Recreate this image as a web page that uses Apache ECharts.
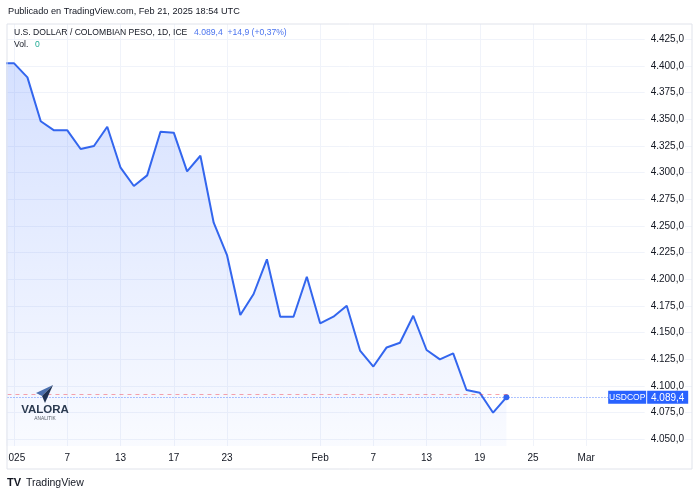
<!DOCTYPE html>
<html><head><meta charset="utf-8">
<script src="https://cdn.jsdelivr.net/npm/echarts@6/dist/echarts.min.js"></script>
<style>html,body{margin:0;padding:0;background:#fff}#c{width:700px;height:497px}</style>
</head><body><div id="c"></div>
<script>
// ---- data ----
const tradingDays = ["Dec 31","Jan 1","Jan 2","Jan 3","Jan 6","Jan 7","Jan 8","Jan 9","Jan 10","Jan 13","Jan 14","Jan 15","Jan 16","Jan 17","Jan 20","Jan 21","Jan 22","Jan 23","Jan 24","Jan 27","Jan 28","Jan 29","Jan 30","Jan 31","Feb 3","Feb 4","Feb 5","Feb 6","Feb 7","Feb 10","Feb 11","Feb 12","Feb 13","Feb 14","Feb 17","Feb 18","Feb 19","Feb 20","Feb 21","Feb 24","Feb 25","Feb 26","Feb 27","Feb 28","Mar 3","Mar 4","Mar 5","Mar 6","Mar 7","Mar 10","Mar 11","Mar 12","Mar 13"];
const closes = [4402.5,4402.5,4389.4,4348.2,4339.7,4339.7,4322.2,4325.0,4343.1,4304.7,4287.5,4297.5,4338.4,4337.5,4301.3,4315.9,4253.1,4222.8,4166.6,4186.3,4218.8,4165.0,4165.0,4202.5,4158.8,4165.0,4175.3,4133.3,4118.3,4136.2,4140.6,4165.9,4133.8,4125.0,4130.7,4096.3,4093.7,4075.0,4089.4];
const tickDays = ["Jan 1","Jan 7","Jan 13","Jan 17","Jan 23","Feb 3","Feb 7","Feb 13","Feb 19","Feb 25","Mar 3"];
const tickLabels = ["2025","7","13","17","23","Feb","7","13","19","25","Mar"];
const priceTicks = [4050,4075,4100,4125,4150,4175,4200,4225,4250,4275,4300,4325,4350,4375,4400,4425];
const symbolName = "USDCOP";
const lastPrice = 4089.4;
const priceChange = 14.9;
const priceChangePct = 0.37;
const refLineValue = 4092.2;

// ---- helpers ----
function fmt(v, d) {
  const s = Math.abs(v).toFixed(d).split('.');
  const int = s[0].replace(/\B(?=(\d{3})+(?!\d))/g, '.');
  return (v < 0 ? '-' : '') + int + (d > 0 ? ',' + s[1] : '');
}
const tickIdx = tickDays.map(d => tradingDays.indexOf(d));
const X_MIN = 0.49, X_MAX = 51.95, SCALE_EDGE = 45.65;
const lastIdx = closes.length - 1;
const seriesData = closes.map((v, i) => i === lastIdx
  ? { value: [i, v], symbol: 'circle', symbolSize: 6 }
  : [i, v]);

const FONT = '"Liberation Sans", Arial, sans-serif';
const txt = '#131722';
const blue = '#2962ff';

const chart = echarts.init(document.getElementById('c'), null, { renderer: 'canvas' });
chart.setOption({
  animation: false,
  backgroundColor: '#fff',
  textStyle: { fontFamily: FONT },
  grid: { left: 7, right: 8, top: 24, bottom: 51, containLabel: false },
  xAxis: {
    type: 'value', min: X_MIN, max: X_MAX,
    axisLine: { show: false }, axisTick: { show: false, customValues: tickIdx },
    splitLine: { show: true, lineStyle: { color: '#f0f3fa', width: 1 } },
    axisLabel: {
      customValues: tickIdx, margin: 7, color: txt, fontSize: 10, fontFamily: FONT,
      formatter: v => tickLabels[tickIdx.indexOf(v)]
    }
  },
  yAxis: {
    type: 'value', position: 'right', min: 4043.8, max: 4439.4, scale: true,
    axisLine: { show: false }, axisTick: { show: false, customValues: priceTicks },
    splitLine: { show: true, lineStyle: { color: '#f0f3fa', width: 1 } },
    axisLabel: {
      customValues: priceTicks, inside: true, margin: 7, color: txt, fontSize: 10, fontFamily: FONT,
      backgroundColor: '#fff', padding: [1, 1, 1, 6],
      formatter: v => fmt(v, 1)
    }
  },
  series: [{
    type: 'line', data: seriesData, symbol: 'none', showSymbol: true, clip: true,
    lineStyle: { color: '#3366ee', width: 2 },
    itemStyle: { color: '#3366ee' },
    areaStyle: {
      color: new echarts.graphic.LinearGradient(0, 0, 0, 1, [
        { offset: 0, color: 'rgba(41,98,255,0.28)' },
        { offset: 1, color: 'rgba(41,98,255,0.04)' }
      ])
    },
    markLine: {
      silent: true, symbol: 'none', animation: false,
      data: [
        [{ coord: [X_MIN + 0.01, refLineValue], lineStyle: { color: 'rgba(242,54,69,0.45)', type: [4, 4], width: 1 }, label: { show: false } },
         { coord: [lastIdx + 0.4, refLineValue] }],
        [{ coord: [X_MIN + 0.01, lastPrice], lineStyle: { color: 'rgba(41,98,255,0.75)', type: [1, 2], width: 1 },
           label: {
             show: true, position: 'end', distance: 0,
             formatter: '{a|' + symbolName + '}{s| }{b|' + fmt(lastPrice, 1) + '}',
             rich: {
               a: { backgroundColor: blue, color: '#fff', fontSize: 8.5, fontFamily: FONT, width: 36, align: 'center', padding: [2, 1, 1, 1], lineHeight: 13, height: 10 },
               s: { width: 1, fontSize: 8 },
               b: { backgroundColor: blue, color: '#fff', fontSize: 10, fontFamily: FONT, width: 35, align: 'center', padding: [2, 3, 1, 3], lineHeight: 13, height: 10 }
             }
           } },
         { coord: [SCALE_EDGE, lastPrice] }]
      ]
    }
  }],
  graphic: [
    { type: 'rect', z: 100, silent: true, shape: { x: 0, y: 450, width: 8, height: 18 }, style: { fill: '#fff' } },
    { type: 'rect', z: 101, silent: true, shape: { x: 7, y: 24, width: 685, height: 445 }, style: { fill: 'none', stroke: '#e0e3eb', lineWidth: 1 } },
    { type: 'text', z: 101, silent: true, style: { x: 8, y: 11, text: 'Publicado en TradingView.com, Feb 21, 2025 18:54 UTC', fill: txt, font: '9.2px ' + FONT, verticalAlign: 'middle' } },
    { type: 'text', z: 101, silent: true, style: { x: 14, y: 33, verticalAlign: 'middle',
        text: '{a|U.S. DOLLAR / COLOMBIAN PESO, 1D, ICE}  {b|' + fmt(lastPrice, 1) + '  +' + fmt(priceChange, 1) + ' (+' + fmt(priceChangePct, 2) + '%)}',
        rich: { a: { fill: txt, font: '8.6px ' + FONT }, b: { fill: '#4b74ee', font: '8.6px ' + FONT } } } },
    { type: 'text', z: 101, silent: true, style: { x: 14, y: 45, verticalAlign: 'middle',
        text: '{a|Vol.}  {b|0}', rich: { a: { fill: txt, font: '8.6px ' + FONT }, b: { fill: '#22ab94', font: '8.6px ' + FONT } } } },
    // Valora Analitik logo
    { type: 'polygon', z: 101, silent: true, shape: { points: [[36, 393], [53, 385], [42, 396]] }, style: { fill: '#4a6fae' } },
    { type: 'polygon', z: 101, silent: true, shape: { points: [[42, 396], [53, 385], [45, 403]] }, style: { fill: '#1f3254' } },
    { type: 'text', z: 101, silent: true, style: { x: 45, y: 410, text: 'VALORA', fill: '#2b3a50', font: 'bold 11.5px ' + FONT, align: 'center', verticalAlign: 'middle', letterSpacing: 3 } },
    { type: 'text', z: 101, silent: true, style: { x: 45, y: 419, text: 'ANALITIK', fill: '#555c66', font: '4.8px ' + FONT, align: 'center', verticalAlign: 'middle', letterSpacing: 3 } },
    // TradingView footer
    { type: 'text', z: 101, silent: true, style: { x: 7, y: 483, text: 'TV', fill: txt, font: 'bold 11px ' + FONT, verticalAlign: 'middle' } },
    { type: 'text', z: 101, silent: true, style: { x: 26, y: 483, text: 'TradingView', fill: txt, font: '10.5px ' + FONT, verticalAlign: 'middle' } }
  ]
});
</script></body></html>
